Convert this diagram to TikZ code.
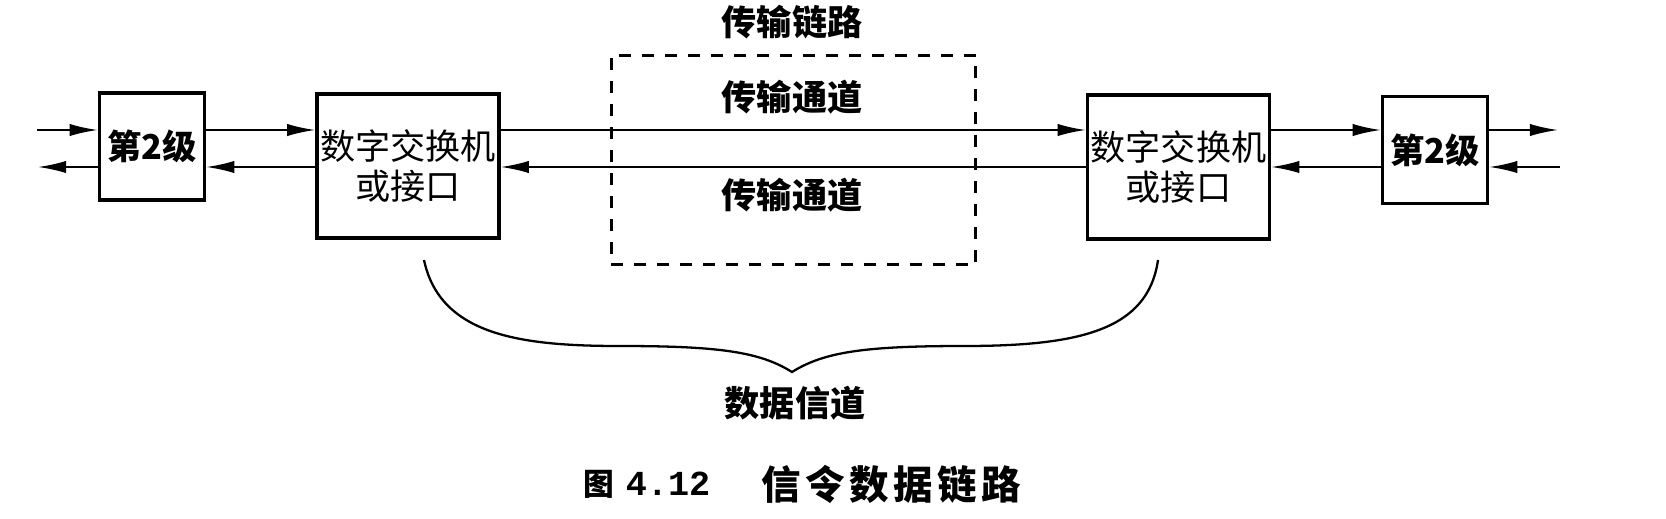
\documentclass[tikz,border=0pt]{standalone}
\usepackage{fontspec}
\newfontfamily\cjk{Noto Sans CJK SC}
\newfontfamily\capmono{Liberation Mono}
\usetikzlibrary{arrows.meta}
\begin{document}
\begin{tikzpicture}[x=0.02cm,y=-0.02cm,
  box/.style={draw,line width=2pt,inner sep=0pt,align=center,
    font=\cjk\fontsize{20pt}{23pt}\selectfont},
  smallbox/.style={box,minimum width=2.1cm,minimum height=2.14cm,
    font=\cjk\bfseries\fontsize{19.5pt}{23pt}\selectfont},
  bigbox/.style={box,minimum width=3.64cm,minimum height=2.88cm},
  dashbox/.style={draw,line width=1.7pt,dash pattern=on 0.24cm off 0.22cm,
    inner sep=0pt,minimum width=7.3cm,minimum height=4.2cm},
  lbl/.style={inner sep=0pt,font=\cjk\bfseries\fontsize{20pt}{23pt}\selectfont},
  arr/.style={line width=1.1pt,-{Latex[length=16pt,width=7pt]}},
  brace/.style={line width=1.3pt,line join=miter},
  captext/.style={inner sep=0pt,font=\cjk\bfseries\fontsize{22.5pt}{26pt}\selectfont}]
\useasboundingbox (0,0) rectangle (1666,518);

% boxes
\node[smallbox] (l2) at (152,146.5) {第2级};
\node[bigbox] (lb) at (408,166) {数字交换机\\或接口};
\node[dashbox] (tl) at (793.5,160) {};
\node[bigbox] (rb) at (1178.5,167) {数字交换机\\或接口};
\node[smallbox] (r2) at (1435,150) {第2级};

% labels
\node[lbl] (tllbl) at (792,22) {传输链路};
\node[lbl] (ch1) at (792,97) {传输通道};
\node[lbl] (ch2) at (792,195) {传输通道};
\node[lbl] (dc) at (795,403) {数据信道};

% reference heights and free ends
\coordinate (yu) at (0,130);
\coordinate (yd) at (0,167);
\coordinate (inL) at (37,130);
\coordinate (outL) at (38,167);
\coordinate (outR) at (1558,130);
\coordinate (inR) at (1560,167);

% connectors
\draw[arr] (inL) -- (inL -| l2.west);
\draw[arr] (l2.west |- yd) -- (outL);
\draw[arr] (l2.east |- yu) -- (lb.west |- yu);
\draw[arr] (lb.west |- yd) -- (l2.east |- yd);
\draw[arr] (lb.east |- yu) -- (rb.west |- yu);
\draw[arr] (rb.west |- yd) -- (lb.east |- yd);
\draw[arr] (rb.east |- yu) -- (r2.west |- yu);
\draw[arr] (r2.west |- yd) -- (rb.east |- yd);
\draw[arr] (r2.east |- yu) -- (outR);
\draw[arr] (inR) -- (inR -| r2.east);

% brace
\draw[brace] (424,260) .. controls (440,335) and (520,346) .. (620,346)
  .. controls (720,346) and (760,352) .. (792,372)
  .. controls (824,352) and (864,346) .. (964,346)
  .. controls (1080,346) and (1148,330) .. (1158,260);

% caption
\node[captext,font=\cjk\bfseries\fontsize{17.5pt}{21pt}\selectfont] (fig) at (599,484) {图};
\node[captext,font=\capmono\bfseries\fontsize{20pt}{22pt}\selectfont] (num) at (668,484) {4.12};
\node[captext] (title) at (891,484) {信\hspace{2.5pt}令\hspace{2.5pt}数\hspace{2.5pt}据\hspace{2.5pt}链\hspace{2.5pt}路};
\end{tikzpicture}
\end{document}
